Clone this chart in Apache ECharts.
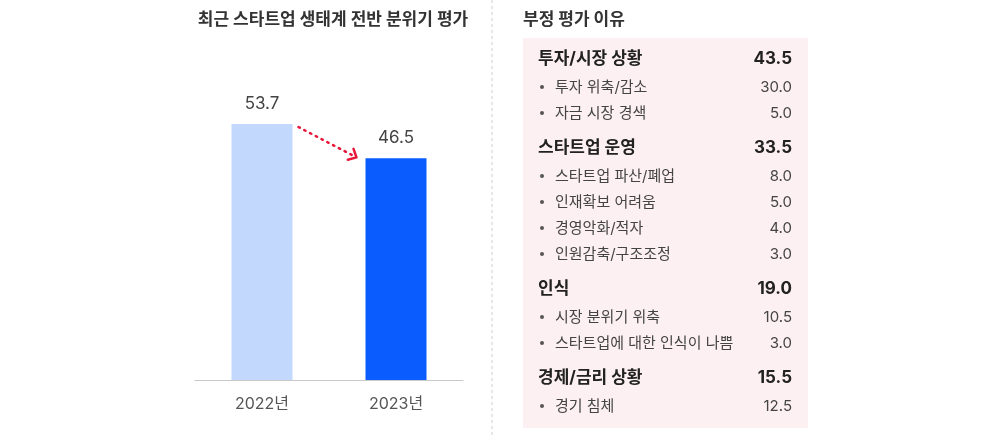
<!DOCTYPE html>
<html>
<head>
<meta charset="utf-8">
<script src="https://cdn.jsdelivr.net/npm/echarts@6/dist/echarts.min.js"></script>
<style>
html,body{margin:0;padding:0;background:#fff;}
#chart{width:1000px;height:436px;}
</style>
</head>
<body>
<div id="chart"></div>
<script>
// ---- data ----
const years = ['2022년', '2023년'];
const scores = [53.7, 46.5];
const leftTitle = '최근 스타트업 생태계 전반 분위기 평가';
const rightTitle = '부정 평가 이유';
const groups = ['투자/시장 상황', '스타트업 운영', '인식', '경제/금리 상황'];
const groupValues = [43.5, 33.5, 19.0, 15.5];
const itemNames = [
  ['투자 위축/감소', '자금 시장 경색'],
  ['스타트업 파산/폐업', '인재확보 어려움', '경영악화/적자', '인원감축/구조조정'],
  ['시장 분위기 위축', '스타트업에 대한 인식이 나쁨'],
  ['경기 침체']
];
const itemValues = [
  [30.0, 5.0],
  [8.0, 5.0, 4.0, 3.0],
  [10.5, 3.0],
  [12.5]
];

const FONT = 'Inter, "Noto Sans CJK KR", "Noto Sans", sans-serif';
const chart = echarts.init(document.getElementById('chart'));

// ---- right panel graphic ----
const panel = [];
panel.push({type:'rect', shape:{x:523, y:38, width:285, height:390}, style:{fill:'#fdf0f2'}, z:1});
let y = 59;
groups.forEach((g, gi) => {
  panel.push({type:'text', x:538, y:y, style:{text:g, font:'bold 17px ' + FONT, fill:'#222', textVerticalAlign:'middle', textAlign:'left'}, z:2});
  panel.push({type:'text', x:792, y:y, style:{text:groupValues[gi].toFixed(1), font:'bold 17px ' + FONT, fill:'#222', textVerticalAlign:'middle', textAlign:'right'}, z:2});
  y += 28;
  itemNames[gi].forEach((n, ii) => {
    panel.push({type:'circle', shape:{cx:542, cy:y, r:2}, style:{fill:'#555'}, z:2});
    panel.push({type:'text', x:555, y:y, style:{text:n, font:'15px ' + FONT, fill:'#444', textVerticalAlign:'middle', textAlign:'left'}, z:2});
    panel.push({type:'text', x:792, y:y, style:{text:itemValues[gi][ii].toFixed(1), font:'15px ' + FONT, fill:'#444', textVerticalAlign:'middle', textAlign:'right'}, z:2});
    if (ii < itemNames[gi].length - 1) y += 26;
  });
  y += 35;
});

const baseGraphic = [
  {type:'text', x:333, y:20, style:{text:leftTitle, font:'bold 17px ' + FONT, fill:'#333', textAlign:'center', textVerticalAlign:'middle'}},
  {type:'text', x:523, y:20, style:{text:rightTitle, font:'bold 17px ' + FONT, fill:'#333', textAlign:'left', textVerticalAlign:'middle'}},
  {type:'line', shape:{x1:492, y1:0, x2:492, y2:436}, style:{stroke:'#cfcfcf', lineWidth:1, lineDash:[3,3]}}
].concat(panel);

chart.setOption({
  animation:false,
  grid:{left:195, right:537, top:94, bottom:56},
  xAxis:{
    type:'category', data:years,
    axisLine:{lineStyle:{color:'#c8c8c8', width:1}},
    axisTick:{show:false},
    axisLabel:{color:'#555', fontSize:16, margin:16, fontFamily:FONT}
  },
  yAxis:{type:'value', min:0, max:60, show:false, splitLine:{show:false}},
  series:[{
    type:'bar', barWidth:61,
    data: scores.map((v, i) => ({value:v, itemStyle:{color: i === 0 ? '#c2d8fc' : '#0a5cff'}})),
    label:{show:true, position:'top', distance:12, color:'#444', fontSize:17, fontFamily:FONT, formatter: p => p.value.toFixed(1)}
  }],
  graphic: baseGraphic
});

// arrow between bars, positioned from the axes
const p1 = chart.convertToPixel({seriesIndex:0}, [0, scores[0]]);
const p2 = chart.convertToPixel({seriesIndex:0}, [1, scores[1]]);
const half = 30.5;
const sx = p1[0] + half + 6, sy = p1[1] + 3;
const ex = p2[0] - half - 9, ey = p2[1] - 1;
const ang = Math.atan2(ey - sy, ex - sx);
const L = 9, spread = 0.75;
const a1 = [ex - L * Math.cos(ang - spread), ey - L * Math.sin(ang - spread)];
const a2 = [ex - L * Math.cos(ang + spread), ey - L * Math.sin(ang + spread)];
chart.setOption({
  graphic: baseGraphic.concat([
    {type:'line', shape:{x1:sx, y1:sy, x2:ex - 2*Math.cos(ang), y2:ey - 2*Math.sin(ang)}, style:{stroke:'#e8173a', lineWidth:2.5, lineDash:[1.5,5], lineCap:'round'}, z:5},
    {type:'polyline', shape:{points:[a1, [ex, ey], a2]}, style:{stroke:'#e8173a', lineWidth:2.5, fill:null, lineCap:'round', lineJoin:'round'}, z:5}
  ])
}, {replaceMerge:['graphic']});
</script>
</body>
</html>
